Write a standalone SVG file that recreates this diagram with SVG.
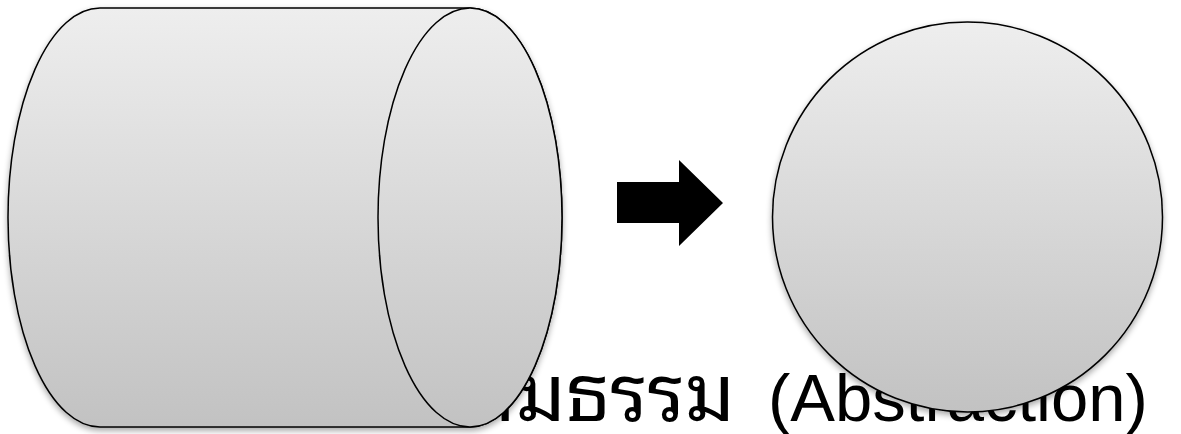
<svg xmlns="http://www.w3.org/2000/svg" width="1181" height="434" viewBox="0 0 1181 434">
  <defs>
    <linearGradient id="shade" x1="0" y1="0" x2="0" y2="1">
      <stop offset="0" stop-color="#eeeeee"/>
      <stop offset="1" stop-color="#c2c2c2"/>
    </linearGradient>
    <filter id="drop" x="-10%" y="-10%" width="120%" height="125%">
      <feGaussianBlur in="SourceAlpha" stdDeviation="3"/>
      <feOffset dx="0" dy="3" result="blur"/>
      <feComponentTransfer><feFuncA type="linear" slope="0.35"/></feComponentTransfer>
      <feMerge><feMergeNode/><feMergeNode in="SourceGraphic"/></feMerge>
    </filter>
    <style>
      .shape { fill: url(#shade); stroke: #000; stroke-width: 1.5; }
      .thai { font-family: "Noto Sans Thai Looped", "Loma", "Garuda", "Waree", "Noto Sans", sans-serif; font-size: 79px; fill: #000; }
      .latin { font-family: "Liberation Sans", Arial, sans-serif; font-size: 67px; fill: #000; }
    </style>
  </defs>

  <!-- caption sits behind the shapes -->
  <g id="caption">
    <text class="thai" x="735" y="421" text-anchor="end">นามธรรม</text>
    <text class="latin" x="768" y="421">(Abstraction)</text>
  </g>

  <!-- horizontal cylinder -->
  <g id="cylinder" filter="url(#drop)">
    <path class="shape" d="M100,8 L470,8 A92,209.5 0 0 1 470,427 L100,427 A92,209.5 0 0 1 100,8 Z"/>
    <ellipse class="shape" cx="470" cy="217.5" rx="92" ry="209.5"/>
  </g>

  <!-- block arrow -->
  <g id="connectors">
    <polygon points="617,182 679,182 679,160 723,203 679,246 679,223 617,223" fill="#000"/>
  </g>

  <!-- sphere -->
  <g id="circle" filter="url(#drop)">
    <circle class="shape" cx="967.5" cy="217" r="195"/>
  </g>
</svg>
